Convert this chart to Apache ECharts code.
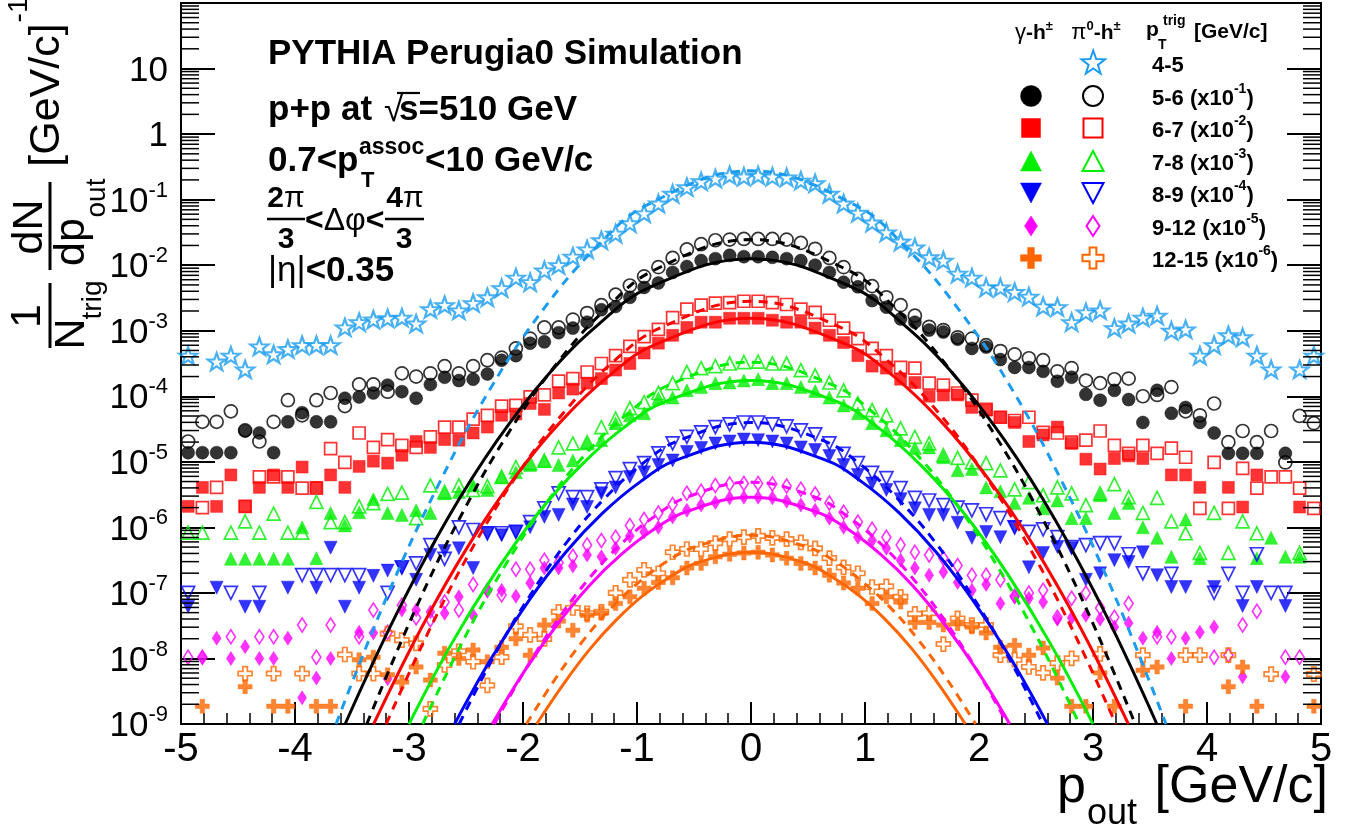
<!DOCTYPE html>
<html><head><meta charset="utf-8">
<script src="https://cdn.jsdelivr.net/npm/echarts@6/dist/echarts.min.js"></script>
<style>html,body{margin:0;padding:0;background:#fff}#c{width:1351px;height:837px}</style>
</head><body><div id="c"></div>
<script>
// ---------------- DATA ----------------
// p_out bin centres [GeV/c] (80 bins of 0.125)
const binCenters = [-4.9375,-4.8125,-4.6875,-4.5625,-4.4375,-4.3125,-4.1875,-4.0625,-3.9375,-3.8125,
 -3.6875,-3.5625,-3.4375,-3.3125,-3.1875,-3.0625,-2.9375,-2.8125,-2.6875,-2.5625,
 -2.4375,-2.3125,-2.1875,-2.0625,-1.9375,-1.8125,-1.6875,-1.5625,-1.4375,-1.3125,
 -1.1875,-1.0625,-0.9375,-0.8125,-0.6875,-0.5625,-0.4375,-0.3125,-0.1875,-0.0625,
 0.0625,0.1875,0.3125,0.4375,0.5625,0.6875,0.8125,0.9375,1.0625,1.1875,
 1.3125,1.4375,1.5625,1.6875,1.8125,1.9375,2.0625,2.1875,2.3125,2.4375,
 2.5625,2.6875,2.8125,2.9375,3.0625,3.1875,3.3125,3.4375,3.5625,3.6875,
 3.8125,3.9375,4.0625,4.1875,4.3125,4.4375,4.5625,4.6875,4.8125,4.9375];

// log10 of (1/N_trig dN/dp_out) (scaled values as displayed)
const log10_pi0_4_5 = [-3.38,null,-3.47,-3.38,-3.59,-3.24,-3.36,-3.28,-3.22,-3.22,
 -3.22,-2.95,-2.87,-2.83,-2.81,-2.80,-2.89,-2.67,-2.61,-2.69,
 -2.58,-2.49,-2.35,-2.19,-2.26,-2.08,-2.00,-1.87,-1.76,-1.62,
 -1.52,-1.36,-1.21,-1.06,-0.91,-0.81,-0.72,-0.68,-0.63,-0.65,
 -0.63,-0.65,-0.66,-0.71,-0.75,-0.91,-1.06,-1.20,-1.35,-1.50,
 -1.64,-1.73,-1.88,-1.93,-2.13,-2.19,-2.34,-2.34,-2.41,-2.48,
 -2.63,-2.64,-2.87,-2.72,-2.69,-2.96,-2.89,-2.80,-2.77,-3.00,
 -2.98,-3.38,-3.22,-3.07,-3.10,-3.38,-3.59,null,-3.59,-3.38];
const log10_gam_5_6 = [-4.86,-4.86,-4.86,-4.86,-4.53,-4.56,-4.86,-4.39,-4.25,-4.39,
 -4.39,-4.03,-4.01,-3.95,-3.83,-3.93,-4.03,-3.82,-3.71,-3.76,
 -3.74,-3.66,-3.45,-3.38,-3.19,-3.17,-3.03,-2.96,-2.87,-2.68,
 -2.63,-2.49,-2.34,-2.27,-2.11,-2.02,-1.93,-1.90,-1.85,-1.87,
 -1.87,-1.88,-1.90,-1.93,-2.00,-2.11,-2.26,-2.33,-2.54,-2.64,
 -2.82,-2.87,-2.99,-3.02,-3.13,-3.27,-3.25,-3.44,-3.56,-3.56,
 -3.62,-3.77,-3.71,-3.97,-4.06,-3.91,-4.05,-4.40,-3.91,-4.26,
 -4.17,-4.40,-4.56,-4.87,-4.87,-4.87,null,-4.87,null,null];
const log10_pi0_5_6 = [-4.69,-4.39,-4.39,-4.23,-4.52,-4.69,-4.39,-4.06,-4.29,-4.06,
 -3.95,-4.15,-3.82,-3.82,-3.93,-3.65,-3.70,-3.65,-3.54,-3.65,
 -3.54,-3.45,-3.41,-3.27,-3.12,-2.95,-2.95,-2.83,-2.73,-2.61,
 -2.45,-2.31,-2.17,-2.03,-1.89,-1.76,-1.68,-1.62,-1.61,-1.60,
 -1.60,-1.60,-1.61,-1.66,-1.75,-1.89,-2.03,-2.21,-2.32,-2.49,
 -2.61,-2.77,-2.94,-2.99,-3.10,-3.12,-3.22,-3.31,-3.36,-3.42,
 -3.45,-3.62,-3.57,-3.76,-3.80,-3.74,-3.73,-4.00,-3.98,-3.86,
 -4.23,-4.29,-4.11,-4.70,-4.53,-4.70,-4.53,-5.01,-4.30,-4.41];
const log10_gam_6_7 = [-5.68,-5.39,-5.68,-5.20,-5.68,-5.39,-5.20,-5.39,-5.08,-5.39,
 -5.20,-5.39,-5.07,-4.99,-5.02,-4.90,-4.69,-4.78,-4.66,-4.67,
 -4.56,-4.47,-4.29,-4.27,-4.11,-4.20,-3.95,-3.89,-3.80,-3.73,
 -3.60,-3.50,-3.34,-3.19,-3.07,-2.95,-2.87,-2.87,-2.81,-2.81,
 -2.81,-2.84,-2.87,-2.87,-2.96,-3.07,-3.18,-3.38,-3.54,-3.57,
 -3.74,-3.79,-4.00,-3.98,-3.98,-4.17,-4.21,-4.32,-4.40,-4.69,
 -4.59,-4.47,-4.72,-4.96,-5.11,-4.95,-4.91,-4.95,null,-5.20,
 -5.20,-5.39,null,-5.39,-5.69,-5.20,null,null,-5.69,null];
const log10_pi0_6_7 = [null,-5.70,-5.39,null,-5.68,-5.23,-5.23,-5.23,-5.40,-5.40,
 -4.80,-5.01,-4.56,-4.78,-4.66,-4.75,-4.78,-4.62,-4.47,-4.47,
 -4.35,-4.29,-4.15,-4.14,-4.01,-3.98,-3.77,-3.73,-3.63,-3.50,
 -3.38,-3.24,-3.09,-2.98,-2.80,-2.67,-2.61,-2.58,-2.57,-2.55,
 -2.55,-2.57,-2.60,-2.67,-2.72,-2.84,-2.96,-3.12,-3.27,-3.38,
 -3.56,-3.57,-3.80,-3.83,-3.95,-4.06,-4.20,-4.32,-4.37,-4.32,
 -4.55,-4.56,-4.70,-4.67,-4.53,-4.75,-4.87,-4.75,-4.87,-4.79,
 -4.93,-5.71,-5.01,-5.71,-5.10,-5.40,-5.23,-5.23,-5.40,-5.71];
const log10_gam_7_8 = [null,null,null,-6.48,-6.48,-6.48,-6.48,-6.48,-6.00,-6.47,
 -5.78,-5.97,-5.77,-5.57,-5.78,-5.81,-5.74,-5.78,-5.48,-5.46,
 -5.36,-5.43,-5.23,-5.16,-5.05,-4.99,-5.05,-4.98,-4.72,-4.67,
 -4.41,-4.29,-4.26,-4.03,-4.02,-3.91,-3.86,-3.80,-3.79,-3.76,
 -3.74,-3.80,-3.80,-3.86,-3.92,-4.02,-4.14,-4.26,-4.41,-4.52,
 -4.67,-4.79,-4.78,-4.93,-5.13,-5.11,-5.39,-5.45,-5.63,-5.55,
 -5.71,-5.59,-5.86,-5.86,-5.51,-5.78,-5.63,-6.00,-6.16,-6.45,
 -5.88,-6.47,null,null,null,-6.47,-6.16,-6.45,-6.45,null];
const log10_pi0_7_8 = [-6.08,-6.08,null,-6.08,-5.91,-6.08,-5.79,-6.08,-6.08,-5.61,
 -5.92,-5.92,-5.68,-5.63,-5.49,-5.47,-5.86,-5.36,-5.46,-5.36,
 -5.43,-5.37,-5.23,-5.08,-5.02,-4.98,-4.78,-4.72,-4.70,-4.47,
 -4.34,-4.18,-4.09,-3.95,-3.80,-3.63,-3.57,-3.54,-3.50,-3.48,
 -3.47,-3.50,-3.50,-3.60,-3.68,-3.79,-3.91,-4.11,-4.21,-4.29,
 -4.49,-4.62,-4.72,-4.90,-4.94,-5.01,-5.02,-5.13,-5.42,-5.31,
 -5.51,-5.39,-5.48,-5.66,-5.48,-5.34,-5.54,-5.78,-5.55,-5.91,
 -6.09,-6.39,-5.78,-6.39,-5.91,-6.09,null,null,-6.39,null];
const log10_gam_8_9 = [-7.21,null,-6.92,null,-7.21,-7.21,null,-6.92,null,-6.92,
 -6.31,-7.21,-6.92,-6.74,-6.66,-6.62,-6.80,-6.42,-6.36,-6.32,
 -6.62,-6.09,-6.12,-6.07,-6.00,-5.84,-5.81,-5.65,-5.69,-5.48,
 -5.39,-5.23,-5.16,-5.05,-4.98,-4.85,-4.79,-4.72,-4.69,-4.66,
 -4.67,-4.69,-4.72,-4.78,-4.82,-4.91,-5.05,-5.20,-5.33,-5.43,
 -5.57,-5.71,-5.81,-5.81,-5.93,-6.16,-6.07,-6.15,-6.00,-6.61,
 -6.39,-6.30,-6.32,-6.80,-6.70,-6.50,-6.53,-6.38,-6.73,-6.91,
 -6.91,null,-6.91,null,-7.20,-6.91,null,-7.20,null,null];
const log10_pi0_8_9 = [-7.00,null,null,-7.00,null,-7.00,null,null,-6.73,-6.73,
 -6.73,-6.73,-6.73,null,-7.00,-6.61,-6.55,-6.27,-6.48,-6.00,
 -6.04,-6.09,-6.09,-6.07,-5.92,-5.71,-5.48,-5.54,-5.54,-5.42,
 -5.25,-5.11,-5.02,-4.87,-4.72,-4.62,-4.55,-4.47,-4.43,-4.40,
 -4.40,-4.43,-4.46,-4.52,-4.58,-4.72,-4.88,-5.02,-5.17,-5.25,
 -5.40,-5.55,-5.59,-5.66,-5.70,-5.74,-5.80,-5.86,-6.00,-6.07,
 -6.03,-6.15,-6.30,-6.27,-6.24,-6.24,-6.41,-6.70,null,-6.71,
 null,null,-7.00,-6.71,-7.00,-6.41,-7.00,-7.00,null,null];
const log10_gam_9_12 = [null,-7.98,-7.69,-8.00,-7.82,-8.00,-8.00,-7.69,-8.60,-8.30,
 -8.00,null,-7.60,-7.61,-8.31,-7.26,-7.26,-7.29,-7.31,-7.06,
 -7.34,-6.96,-6.96,-7.05,-6.85,-6.62,-6.62,-6.59,-6.42,-6.45,
 -6.32,-6.13,-6.07,-6.00,-5.84,-5.74,-5.66,-5.62,-5.55,-5.54,
 -5.54,-5.55,-5.60,-5.66,-5.74,-5.86,-6.00,-6.15,-6.20,-6.32,
 -6.50,-6.62,-6.73,-6.68,-6.84,-6.96,-6.87,-7.16,-7.06,-7.08,
 -7.14,-7.40,-7.38,-7.34,-7.40,-7.52,-7.46,-7.69,-7.60,-8.00,
 -7.69,-7.60,-7.52,null,-8.28,null,null,-8.28,null,null];
const log10_pi0_9_12 = [-7.98,-7.98,null,-7.67,null,-7.67,-7.67,null,-7.49,-7.98,
 -7.49,null,-7.67,-7.26,-7.60,-7.19,-7.38,-7.41,-7.14,-7.26,
 -6.87,-6.96,-7.03,-6.64,-6.64,-6.50,-6.54,-6.44,-6.27,-6.20,
 -6.15,-5.97,-5.88,-5.78,-5.65,-5.48,-5.45,-5.36,-5.34,-5.33,
 -5.33,-5.34,-5.37,-5.42,-5.49,-5.63,-5.77,-5.92,-6.03,-6.15,
 -6.27,-6.38,-6.42,-6.47,-6.58,-6.73,-6.73,-6.80,-7.05,-7.00,
 -6.96,-7.37,-7.08,-7.00,-7.23,-7.37,-7.16,null,-7.67,-7.67,
 null,null,-7.98,-7.95,-7.49,-7.28,null,-7.98,-7.98,null];
const log10_gam_12_15 = [null,-8.73,null,null,-8.43,null,-8.73,-8.73,null,-8.73,
 -8.73,null,-8.02,-7.98,-8.25,-8.36,-8.13,-8.33,-7.92,-8.00,
 -7.87,-8.05,-7.83,-7.70,-7.95,-7.49,-7.43,-7.57,-7.34,-7.31,
 -7.16,-7.06,-6.93,-6.84,-6.77,-6.62,-6.55,-6.45,-6.41,-6.39,
 -6.38,-6.42,-6.47,-6.55,-6.62,-6.73,-6.85,-6.93,-7.16,-7.06,
 -7.14,-7.45,-7.45,-7.49,-7.47,-7.52,-7.61,-7.83,-7.80,-7.95,
 -7.84,-8.30,-8.73,-8.73,-8.22,-8.73,null,-8.18,-8.13,null,
 -8.73,null,null,-8.43,-8.13,-8.73,null,null,null,-8.73];
const log10_pi0_12_15 = [null,null,null,null,-8.23,null,-8.23,null,-8.23,null,
 null,-7.94,-8.23,-8.23,-7.62,-7.72,-7.77,-8.77,-8.10,-7.89,
 -8.05,-8.41,-7.98,-7.51,-7.64,-7.70,-7.29,-7.23,-7.31,-7.29,
 -7.00,-6.80,-6.65,-6.70,-6.38,-6.33,-6.33,-6.24,-6.18,-6.15,
 -6.13,-6.16,-6.18,-6.23,-6.32,-6.47,-6.61,-6.70,-6.91,-6.90,
 -7.06,-7.32,-7.31,-7.78,-7.39,-7.49,-7.49,-7.95,-8.02,-8.13,
 -8.22,-8.07,-8.00,null,-7.93,null,null,-7.95,null,null,
 -7.95,-7.95,null,-7.95,null,null,-8.24,null,null,-8.24];

// Gaussian fit curves: x [GeV/c] and log10(y)
const fitX_pi0_4_5 = [-3.64,-3.185,-2.73,-2.275,-1.82,-1.365,-0.91,0,0.91,1.365,1.82,2.275,2.73,3.185,3.64];
const fitL_pi0_4_5 = [-9,-7.02,-5.31,-3.85,-2.67,-1.74,-1.08,-0.56,-1.08,-1.74,-2.67,-3.85,-5.31,-7.02,-9];
const fitX_gam_5_6 = [-3.56,-3.115,-2.67,-2.225,-1.78,-1.335,-0.89,0,0.89,1.335,1.78,2.225,2.67,3.115,3.56];
const fitL_gam_5_6 = [-9,-7.34,-5.89,-4.67,-3.67,-2.90,-2.34,-1.90,-2.34,-2.90,-3.67,-4.67,-5.89,-7.34,-9];
const fitX_pi0_5_6 = [-3.37,-2.949,-2.528,-2.106,-1.685,-1.264,-0.843,0,0.843,1.264,1.685,2.106,2.528,2.949,3.37];
const fitL_pi0_5_6 = [-9,-7.27,-5.77,-4.50,-3.46,-2.65,-2.07,-1.61,-2.07,-2.65,-3.46,-4.50,-5.77,-7.27,-9];
const fitX_gam_6_7 = [-3.31,-2.896,-2.483,-2.069,-1.655,-1.241,-0.828,0,0.828,1.241,1.655,2.069,2.483,2.896,3.31];
const fitL_gam_6_7 = [-9,-7.55,-6.29,-5.23,-4.36,-3.68,-3.20,-2.81,-3.20,-3.68,-4.36,-5.23,-6.29,-7.55,-9];
const fitX_pi0_6_7 = [-3.2,-2.8,-2.4,-2.0,-1.6,-1.2,-0.8,0,0.8,1.2,1.6,2.0,2.4,2.8,3.2];
const fitL_pi0_6_7 = [-9,-7.49,-6.18,-5.07,-4.16,-3.46,-2.96,-2.55,-2.96,-3.46,-4.16,-5.07,-6.18,-7.49,-9];
const fitX_gam_7_8 = [-3,-2.625,-2.25,-1.875,-1.5,-1.125,-0.75,0,0.75,1.125,1.5,1.875,2.25,2.625,3];
const fitL_gam_7_8 = [-9,-7.77,-6.71,-5.80,-5.07,-4.49,-4.08,-3.76,-4.08,-4.49,-5.07,-5.80,-6.71,-7.77,-9];
const fitX_pi0_7_8 = [-2.88,-2.52,-2.16,-1.8,-1.44,-1.08,-0.72,0,0.72,1.08,1.44,1.8,2.16,2.52,2.88];
const fitL_pi0_7_8 = [-9,-7.71,-6.59,-5.64,-4.86,-4.26,-3.83,-3.48,-3.83,-4.26,-4.86,-5.64,-6.59,-7.71,-9];
const fitX_gam_8_9 = [-2.6,-2.275,-1.95,-1.625,-1.3,-0.975,-0.65,0,0.65,0.975,1.3,1.625,1.95,2.275,2.6];
const fitL_gam_8_9 = [-9,-7.99,-7.12,-6.38,-5.78,-5.31,-4.97,-4.70,-4.97,-5.31,-5.78,-6.38,-7.12,-7.99,-9];
const fitX_pi0_8_9 = [-2.56,-2.24,-1.92,-1.6,-1.28,-0.96,-0.64,0,0.64,0.96,1.28,1.6,1.92,2.24,2.56];
const fitL_pi0_8_9 = [-9,-7.92,-6.99,-6.19,-5.55,-5.04,-4.68,-4.40,-4.68,-5.04,-5.55,-6.19,-6.99,-7.92,-9];
const fitX_gam_9_12 = [-2.27,-1.986,-1.703,-1.419,-1.135,-0.851,-0.568,0,0.568,0.851,1.135,1.419,1.703,1.986,2.27];
const fitL_gam_9_12 = [-9,-8.19,-7.49,-6.89,-6.41,-6.03,-5.76,-5.54,-5.76,-6.03,-6.41,-6.89,-7.49,-8.19,-9];
const fitX_pi0_9_12 = [-2.25,-1.969,-1.688,-1.406,-1.125,-0.844,-0.563,0,0.563,0.844,1.125,1.406,1.688,1.969,2.25];
const fitL_pi0_9_12 = [-9,-8.14,-7.39,-6.75,-6.23,-5.83,-5.54,-5.31,-5.54,-5.83,-6.23,-6.75,-7.39,-8.14,-9];
const fitX_gam_12_15 = [-1.88,-1.645,-1.41,-1.175,-0.94,-0.705,-0.47,0,0.47,0.705,0.94,1.175,1.41,1.645,1.88];
const fitL_gam_12_15 = [-9,-8.39,-7.85,-7.40,-7.03,-6.75,-6.54,-6.38,-6.54,-6.75,-7.03,-7.40,-7.85,-8.39,-9];
const fitX_pi0_12_15 = [-1.97,-1.724,-1.478,-1.231,-0.985,-0.739,-0.493,0,0.493,0.739,0.985,1.231,1.478,1.724,1.97];
const fitL_pi0_12_15 = [-9,-8.33,-7.74,-7.24,-6.84,-6.52,-6.30,-6.12,-6.30,-6.52,-6.84,-7.24,-7.74,-8.33,-9];

// axis
const xTickLabels = [-5,-4,-3,-2,-1,0,1,2,3,4,5];
const yTickExponents = [-9,-8,-7,-6,-5,-4,-3,-2,-1,0,1];
const legendRows = ['4-5','5-6','6-7','7-8','8-9','9-12','12-15'];
const legendScale = [null,'-1','-2','-3','-4','-5','-6'];

// ---------------- STYLE ----------------
const FONT = "'Liberation Sans', Arial, Helvetica, sans-serif";
const AZ = '#1c9cf0', BK = '#000000', RD = '#ff0000', GR = '#00ee00', BL = '#0000ff', MG = '#ff00ff', OR = '#ff6600';
// marker outlines as polygons (unit boxes)
const POLY = {
  star: [[50,0],[62,34],[98,35],[69,57],[80,91],[50,71],[20,91],[31,57],[2,35],[38,34]],
  tri: [[5,0],[10,10],[0,10]],
  dtri: [[0,0],[10,0],[5,10]],
  diamond: [[5,0],[10,10],[5,20],[0,10]],
  cross: [[3.4,0],[6.6,0],[6.6,3.4],[10,3.4],[10,6.6],[6.6,6.6],[6.6,10],[3.4,10],[3.4,6.6],[0,6.6],[0,3.4],[3.4,3.4]]
};
const toPath = pts => 'path://M' + pts.map(p => p[0] + ',' + p[1]).join(' L') + ' Z';
const markerDefs = [
  {name:'π0 4-5',   d:log10_pi0_4_5,  sym:toPath(POLY.star), size:[18,17], c:AZ, open:true, bw:2.2},
  {name:'γ 5-6',    d:log10_gam_5_6,  sym:'circle', size:13, c:BK, open:false},
  {name:'π0 5-6',   d:log10_pi0_5_6,  sym:'circle', size:13, c:BK, open:true},
  {name:'γ 6-7',    d:log10_gam_6_7,  sym:'rect', size:12, c:RD, open:false},
  {name:'π0 6-7',   d:log10_pi0_6_7,  sym:'rect', size:12, c:RD, open:true},
  {name:'γ 7-8',    d:log10_gam_7_8,  sym:toPath(POLY.tri), size:13, c:GR, open:false},
  {name:'π0 7-8',   d:log10_pi0_7_8,  sym:toPath(POLY.tri), size:13, c:GR, open:true},
  {name:'γ 8-9',    d:log10_gam_8_9,  sym:toPath(POLY.dtri), size:13, c:BL, open:false},
  {name:'π0 8-9',   d:log10_pi0_8_9,  sym:toPath(POLY.dtri), size:13, c:BL, open:true},
  {name:'γ 9-12',   d:log10_gam_9_12, sym:toPath(POLY.diamond), size:[9,14], c:MG, open:false},
  {name:'π0 9-12',  d:log10_pi0_9_12, sym:toPath(POLY.diamond), size:[9,14], c:MG, open:true},
  {name:'γ 12-15',  d:log10_gam_12_15,sym:toPath(POLY.cross), size:14, c:OR, open:false},
  {name:'π0 12-15', d:log10_pi0_12_15,sym:toPath(POLY.cross), size:14, c:OR, open:true}
];
const fitDefs = [
  {x:fitX_pi0_4_5, l:fitL_pi0_4_5, c:AZ, dash:true},
  {x:fitX_gam_5_6, l:fitL_gam_5_6, c:BK, dash:false},
  {x:fitX_pi0_5_6, l:fitL_pi0_5_6, c:BK, dash:true},
  {x:fitX_gam_6_7, l:fitL_gam_6_7, c:RD, dash:false},
  {x:fitX_pi0_6_7, l:fitL_pi0_6_7, c:RD, dash:true},
  {x:fitX_gam_7_8, l:fitL_gam_7_8, c:GR, dash:false},
  {x:fitX_pi0_7_8, l:fitL_pi0_7_8, c:GR, dash:true},
  {x:fitX_gam_8_9, l:fitL_gam_8_9, c:BL, dash:false},
  {x:fitX_pi0_8_9, l:fitL_pi0_8_9, c:BL, dash:true},
  {x:fitX_gam_9_12, l:fitL_gam_9_12, c:MG, dash:false},
  {x:fitX_pi0_9_12, l:fitL_pi0_9_12, c:MG, dash:true},
  {x:fitX_gam_12_15, l:fitL_gam_12_15, c:OR, dash:false},
  {x:fitX_pi0_12_15, l:fitL_pi0_12_15, c:OR, dash:true}
];

const series = [];
markerDefs.forEach(m => {
  const data = [];
  binCenters.forEach((x, i) => { if (m.d[i] !== null) data.push([x, Math.pow(10, m.d[i])]); });
  series.push({
    type:'scatter', name:m.name, data, symbol:m.sym, symbolSize:m.size, z:2, silent:true,
    itemStyle: m.open ? {color:'rgba(0,0,0,0)', borderColor:m.c, borderWidth:m.bw || 1.7}
                      : {color:m.c, borderColor:m.c, borderWidth:0.5}
  });
});
fitDefs.forEach(f => {
  series.push({
    type:'line', data: f.x.map((x, i) => [x, Math.pow(10, f.l[i])]), smooth:0.4, showSymbol:false,
    symbol:'none', z:3, silent:true, clip:true,
    lineStyle:{color:f.c, width:3, type: f.dash ? [9,7] : 'solid'}
  });
});
// y-axis minor ticks at 2..9 x 10^n (both frame sides), placed through the log scale
const yMinorTickValues = [];
yTickExponents.forEach(e => { for (let k = 2; k <= 9; k++) yMinorTickValues.push(k * Math.pow(10, e)); });
series.push({
  type:'custom', silent:true, z:4, clip:false,
  data: yMinorTickValues.map(v => [-5, v]),
  renderItem: (params, api) => {
    const l = api.coord([-5, api.value(1)]);
    const r = api.coord([5, api.value(1)]);
    return {type:'group', children:[
      {type:'line', shape:{x1:l[0], y1:l[1], x2:l[0]+18, y2:l[1]}, style:{stroke:'#000', lineWidth:1.5}},
      {type:'line', shape:{x1:r[0]-18, y1:r[1], x2:r[0], y2:r[1]}, style:{stroke:'#000', lineWidth:1.5}}
    ]};
  }
});

// ---------------- GRAPHIC TEXT / LEGEND ----------------
const g = [];
function T(x, y, text, font, o) {
  o = o || {};
  return {type:'text', x, y, rotation:o.rot || 0, z:100, silent:true,
    style:{text, font, fill:'#000', align:o.align || 'left', verticalAlign:o.va || 'middle', rich:o.rich}};
}
function L(x1, y1, x2, y2, w) {
  return {type:'line', z:100, silent:true, shape:{x1, y1, x2, y2}, style:{stroke:'#000', lineWidth:w || 2.5}};
}
const bold = s => `bold ${s}px ${FONT}`;
const reg = s => `${s}px ${FONT}`;

// info block
g.push(T(268, 54, 'PYTHIA Perugia0 Simulation', bold(35)));
g.push(T(268, 110, 'p+p at', bold(35)));
g.push(T(384, 111, '√', reg(35)));
g.push(T(399, 110, 's=510 GeV', bold(35)));
g.push(L(397, 93, 420, 93, 2.2));
g.push(T(268, 161, '0.7<p', bold(35)));
g.push(T(359, 148, 'assoc', bold(23)));
g.push(T(361, 181, 'T', bold(22)));
g.push(T(425, 161, '<10 GeV/c', bold(35)));
const fr = {b:{font:bold(30)}, g:{font:reg(30)}};
g.push(T(286, 199, '{b|2}{g|π}', bold(30), {align:'center', rich:fr}));
g.push(L(267, 219, 305, 219, 2.5));
g.push(T(286, 240, '3', bold(30), {align:'center'}));
g.push(T(305, 221, '{b|<}{g|Δφ}{b|<}', bold(32), {rich:{b:{font:bold(32)}, g:{font:reg(32)}}}));
g.push(T(405, 199, '{b|4}{g|π}', bold(30), {align:'center', rich:fr}));
g.push(L(385, 219, 424, 219, 2.5));
g.push(T(404, 240, '3', bold(30), {align:'center'}));
g.push(T(268, 271, '{g||η|}{b|<0.35}', bold(35), {rich:{b:{font:bold(35)}, g:{font:reg(35)}}}));

// legend header
const hr = {
  b:{font:bold(21), lineHeight:24, verticalAlign:'bottom'},
  g:{font:reg(22), lineHeight:24, verticalAlign:'bottom'},
  s:{font:bold(13), lineHeight:12, verticalAlign:'top'}
};
g.push(T(1034, 32, '{g|γ}{b|-h}{s|±}', bold(21), {align:'center', rich:hr}));
g.push(T(1096, 32, '{g|π}{s|0}{b|-h}{s|±}', bold(21), {align:'center', rich:hr}));
g.push(T(1146, 30, 'p', bold(21)));
g.push(T(1163, 21, 'trig', bold(14)));
g.push(T(1158, 45, 'T', bold(14)));
g.push(T(1194, 32, '[GeV/c]', bold(21)));

// legend rows
const rowsY = [63, 96, 128, 161, 193, 226, 258];
const lr = {b:{font:bold(22), lineHeight:28, verticalAlign:'bottom'}, s:{font:bold(14), lineHeight:14, verticalAlign:'top'}};
legendRows.forEach((lab, i) => {
  const t = legendScale[i] ? `{b|${lab} (x10}{s|${legendScale[i]}}{b|)}` : `{b|${lab}}`;
  g.push(T(1152, rowsY[i], t, bold(22), {rich:lr}));
});
function sym(kind, cx, cy, color, open) {
  const style = open ? {fill:'none', stroke:color, lineWidth:2} : {fill:color, stroke:color, lineWidth:0.5};
  if (kind === 'circle') return {type:'circle', z:100, silent:true, shape:{cx, cy, r: open ? 10 : 10.5}, style};
  const sz = {rect:[19,19], tri:[21,20], dtri:[21,20], diamond:[13,20], cross:[21,21], star:[24,23]}[kind];
  if (kind === 'rect') return {type:'rect', z:100, silent:true, shape:{x:cx - sz[0]/2, y:cy - sz[1]/2, width:sz[0], height:sz[1]}, style};
  const pts = POLY[kind];
  let mx = 0, my = 0;
  pts.forEach(p => { mx = Math.max(mx, p[0]); my = Math.max(my, p[1]); });
  const points = pts.map(p => [cx - sz[0]/2 + p[0] / mx * sz[0], cy - sz[1]/2 + p[1] / my * sz[1]]);
  return {type:'polygon', z:100, silent:true, shape:{points}, style};
}
const GX = 1031, PX = 1093;
g.push(sym('star', PX, 62, AZ, true));
const kinds = ['circle','rect','tri','dtri','diamond','cross'];
const kc = [BK, RD, GR, BL, MG, OR];
kinds.forEach((k, i) => {
  g.push(sym(k, GX, rowsY[i+1], kc[i], false));
  g.push(sym(k, PX, rowsY[i+1], kc[i], true));
});

// y-axis title (rotated)
const RT = Math.PI / 2;
g.push(T(28, 316, '1', reg(43), {rot:RT, align:'center'}));
g.push(L(50, 283, 50, 348, 3));
g.push(T(72, 334, 'N', reg(43), {rot:RT, align:'center'}));
g.push(T(93, 300, 'trig', reg(28), {rot:RT, align:'center'}));
g.push(T(30, 227, 'dN', reg(43), {rot:RT, align:'center'}));
g.push(L(50, 182, 50, 270, 3));
g.push(T(72, 242, 'dp', reg(43), {rot:RT, align:'center'}));
g.push(T(97, 198, 'out', reg(28), {rot:RT, align:'center'}));
g.push(T(47, 95, '[GeV/c]', reg(43), {rot:RT, align:'center'}));
g.push(T(19, 10, '-1', reg(28), {rot:RT, align:'center'}));

// x-axis title
g.push(T(1057, 788, 'p', reg(52)));
g.push(T(1087, 814, 'out', reg(36)));
g.push(T(1328, 788, '[GeV/c]', reg(52), {align:'right'}));

// ---------------- CHART ----------------
const chart = echarts.init(document.getElementById('c'), null, {renderer:'canvas'});
const axisBlack = {color:'#000', width:2};
const yLog = {type:'log', logBase:10, min:1e-9, max:100, interval:1, splitNumber:11,
  axisLine:{show:true, onZero:false, lineStyle:axisBlack},
  axisTick:{show:true, inside:true, length:34, interval:0, lineStyle:axisBlack},
  splitLine:{show:false}, minorTick:{show:false}};
chart.setOption({
  animation:false,
  backgroundColor:'#ffffff',
  grid:{left:181, right:30, top:3, bottom:113, show:true, borderColor:'#000', borderWidth:2,
        backgroundColor:'rgba(0,0,0,0)', containLabel:false, outerBoundsMode:'none'},
  xAxis:{type:'value', min:-5, max:5, interval:1,
    axisLine:{show:true, onZero:false, lineStyle:axisBlack},
    axisTick:{show:true, inside:true, length:22, lineStyle:axisBlack},
    minorTick:{show:true, splitNumber:5, length:11, lineStyle:{color:'#000', width:1.5}},
    splitLine:{show:false}, minorSplitLine:{show:false},
    axisLabel:{show:true, fontSize:40, fontFamily:FONT, color:'#000', margin:6, showMinLabel:true, showMaxLabel:true,
      formatter: v => xTickLabels.includes(Math.round(v)) ? String(Math.round(v)) : ''}},
  yAxis:[
    Object.assign({}, yLog, {position:'left',
      axisLabel:{show:true, margin:13, interval:0, color:'#000', showMinLabel:true, showMaxLabel:false,
        formatter: v => {
          const e = Math.round(Math.log10(v));
          if (!yTickExponents.includes(e)) return '';
          if (e === 1) return '{b|10}';
          if (e === 0) return '{b|1}';
          return '{b|10}{s|' + e + '}';
        },
        rich:{b:{fontSize:35, fontFamily:FONT, color:'#000', lineHeight:40, verticalAlign:'bottom'},
              s:{fontSize:22, fontFamily:FONT, color:'#000', lineHeight:22, verticalAlign:'top'}}}}),
    Object.assign({}, yLog, {position:'right', axisLabel:{show:false}})
  ],
  series,
  graphic:{elements:g}
});
</script></body></html>
